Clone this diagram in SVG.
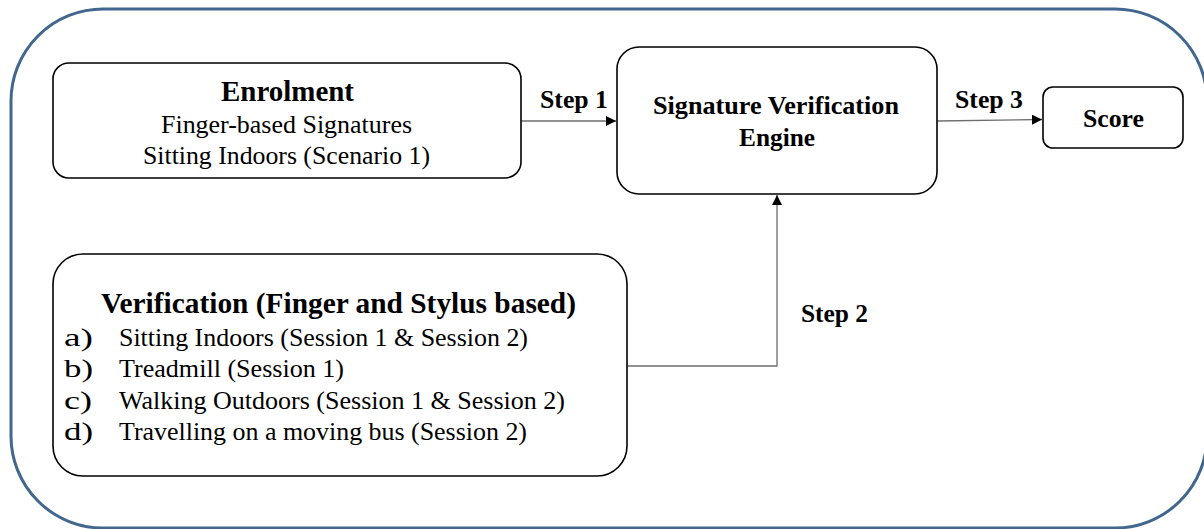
<svg xmlns="http://www.w3.org/2000/svg" width="1204" height="529" viewBox="0 0 1204 529">
  <style>
    .box { fill: #ffffff; stroke: #000000; stroke-width: 1.6; }
    .frame { fill: none; stroke: #41678f; stroke-width: 3; }
    .t { font-family: "Liberation Serif", "Times New Roman", serif; fill: #000000; }
    .b { font-weight: bold; }
    .link { fill: none; stroke: #6e6e6e; stroke-width: 1.3; }
  </style>
  <defs>
    <marker id="arrow" viewBox="0 0 10 10" refX="10" refY="5" markerWidth="10" markerHeight="10" markerUnits="userSpaceOnUse" orient="auto">
      <path d="M0,0 L10,5 L0,10 z" fill="#000000"/>
    </marker>
  </defs>

  <!-- outer frame -->
  <rect class="frame" x="11" y="9" width="1196" height="519" rx="92" ry="92"/>

  <!-- connectors -->
  <g id="connectors">
    <line class="link" x1="521" y1="121" x2="616" y2="121" marker-end="url(#arrow)"/>
    <line class="link" x1="937" y1="121" x2="1042" y2="119.5" marker-end="url(#arrow)"/>
    <polyline class="link" points="627,366 777,366 777,195" marker-end="url(#arrow)"/>
    <text class="t b" x="540" y="108" font-size="25" textLength="68" lengthAdjust="spacingAndGlyphs">Step 1</text>
    <text class="t b" x="955" y="108" font-size="25" textLength="68" lengthAdjust="spacingAndGlyphs">Step 3</text>
    <text class="t b" x="801" y="322" font-size="25" textLength="67" lengthAdjust="spacingAndGlyphs">Step 2</text>
  </g>

  <g id="enrolment">
    <rect class="box" x="53" y="63" width="468" height="115" rx="16"/>
    <text class="t b" x="221" y="101" font-size="29" textLength="133" lengthAdjust="spacingAndGlyphs">Enrolment</text>
    <text class="t" x="161" y="133" font-size="25" textLength="251" lengthAdjust="spacingAndGlyphs">Finger-based Signatures</text>
    <text class="t" x="143" y="164" font-size="25" textLength="287" lengthAdjust="spacingAndGlyphs">Sitting Indoors (Scenario 1)</text>
  </g>

  <g id="engine">
    <rect class="box" x="617" y="47" width="320" height="147" rx="22"/>
    <text class="t b" x="653" y="114" font-size="26" textLength="246" lengthAdjust="spacingAndGlyphs">Signature Verification</text>
    <text class="t b" x="739" y="146" font-size="26" textLength="76" lengthAdjust="spacingAndGlyphs">Engine</text>
  </g>

  <g id="score">
    <rect class="box" x="1043" y="87" width="140" height="61" rx="10"/>
    <text class="t b" x="1083" y="127" font-size="26" textLength="61" lengthAdjust="spacingAndGlyphs">Score</text>
  </g>

  <g id="verification">
    <rect class="box" x="53" y="254" width="574" height="222" rx="30"/>
    <text class="t b" x="101" y="313" font-size="29" textLength="475" lengthAdjust="spacingAndGlyphs">Verification (Finger and Stylus based)</text>
    <g class="t" font-size="25">
      <text x="64" y="346" textLength="29" lengthAdjust="spacingAndGlyphs">a)</text>
      <text x="119" y="346" textLength="409" lengthAdjust="spacingAndGlyphs">Sitting Indoors (Session 1 &amp; Session 2)</text>
      <text x="64" y="377" textLength="29" lengthAdjust="spacingAndGlyphs">b)</text>
      <text x="119" y="377" textLength="225" lengthAdjust="spacingAndGlyphs">Treadmill (Session 1)</text>
      <text x="64" y="409" textLength="28" lengthAdjust="spacingAndGlyphs">c)</text>
      <text x="119" y="409" textLength="446" lengthAdjust="spacingAndGlyphs">Walking Outdoors (Session 1 &amp; Session 2)</text>
      <text x="64" y="440" textLength="29" lengthAdjust="spacingAndGlyphs">d)</text>
      <text x="119" y="440" textLength="408" lengthAdjust="spacingAndGlyphs">Travelling on a moving bus (Session 2)</text>
    </g>
  </g>
</svg>
